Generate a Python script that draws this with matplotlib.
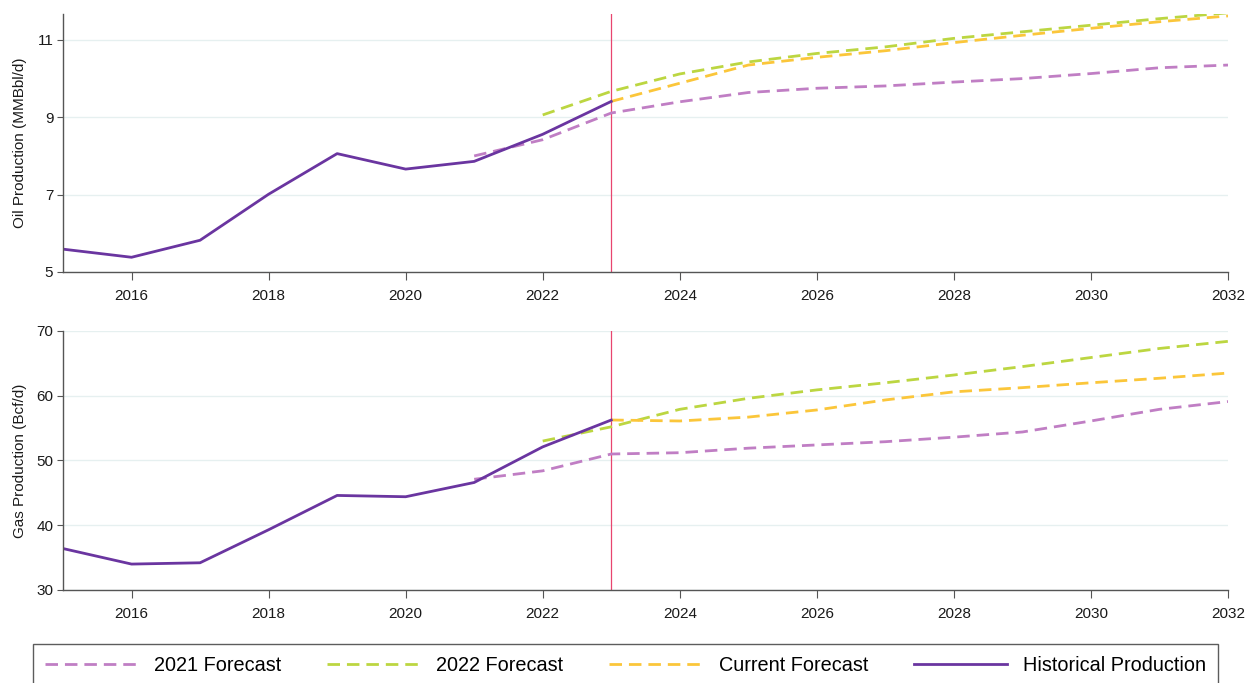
import matplotlib
matplotlib.use("Agg")
import matplotlib.pyplot as plt
import numpy as np

plt.rcParams['font.family'] = ['Liberation Sans', 'DejaVu Sans']

# ---- data ----
hist_years = np.arange(2015, 2024)
oil_hist = [5.59, 5.38, 5.82, 7.01, 8.06, 7.66, 7.86, 8.56, 9.41]
gas_hist = [36.4, 34.0, 34.2, 39.3, 44.6, 44.4, 46.6, 52.1, 56.25]

f21_years = np.arange(2021, 2033)
oil_f21 = [8.0, 8.42, 9.11, 9.40, 9.64, 9.75, 9.81, 9.91, 10.0, 10.13, 10.28, 10.35]
gas_f21 = [47.1, 48.4, 51.0, 51.2, 51.9, 52.4, 52.9, 53.6, 54.4, 56.1, 57.9, 59.1]

f22_years = np.arange(2022, 2033)
oil_f22 = [9.06, 9.67, 10.12, 10.43, 10.65, 10.82, 11.04, 11.21, 11.38, 11.55, 11.70]
gas_f22 = [53.0, 55.2, 57.9, 59.6, 60.9, 62.0, 63.2, 64.5, 65.9, 67.3, 68.4]

cur_years = np.arange(2023, 2033)
oil_cur = [9.41, 9.88, 10.35, 10.55, 10.72, 10.93, 11.12, 11.30, 11.47, 11.62]
gas_cur = [56.25, 56.1, 56.7, 57.8, 59.35, 60.6, 61.25, 62.0, 62.7, 63.5]

current_year = 2023
labels = ['2021 Forecast', '2022 Forecast', 'Current Forecast', 'Historical Production']
colors = ['#c07ec4', '#bcd641', '#fbc63a', '#6a35a0']

fig = plt.figure(figsize=(12.5, 6.83), dpi=100)
ax1 = fig.add_axes([0.0504, 0.6018, 0.932, 0.3777])
ax2 = fig.add_axes([0.0504, 0.1362, 0.932, 0.3792])

def draw(ax, f21, f22, cur, hist, ylim, yticks, ylabel):
    ax.plot(f21_years, f21, color=colors[0], lw=2.0, dashes=(4.5, 2.5), label=labels[0])
    ax.plot(f22_years, f22, color=colors[1], lw=2.0, dashes=(4.5, 2.5), label=labels[1])
    ax.plot(cur_years, cur, color=colors[2], lw=2.0, dashes=(4.5, 2.5), label=labels[2])
    ax.plot(hist_years, hist, color=colors[3], lw=2.0, label=labels[3])
    ax.axvline(current_year, color='#e8456f', lw=0.9, zorder=1)
    ax.set_xlim(2015, 2032)
    ax.set_ylim(*ylim)
    ax.set_xticks(np.arange(2016, 2033, 2))
    ax.set_yticks(yticks)
    ax.yaxis.grid(True, color='#e6f0f0', lw=1.0, zorder=0)
    ax.set_axisbelow(True)
    for s in ['top', 'right']:
        ax.spines[s].set_visible(False)
    for s in ['left', 'bottom']:
        ax.spines[s].set_color('#555555')
        ax.spines[s].set_linewidth(1.0)
    ax.tick_params(axis='x', length=6, color='#555555', labelsize=11, labelcolor='#1a1a1a', pad=6)
    ax.tick_params(axis='y', length=4, color='#555555', labelsize=11, labelcolor='#1a1a1a', pad=3)
    ax.set_ylabel(ylabel, fontsize=11, color='#1a1a1a')
    ax.yaxis.set_label_coords(-0.031, 0.5)

draw(ax1, oil_f21, oil_f22, oil_cur, oil_hist, (5, 11.67), [5, 7, 9, 11], 'Oil Production (MMBbl/d)')
draw(ax2, gas_f21, gas_f22, gas_cur, gas_hist, (30, 70), [30, 40, 50, 60, 70], 'Gas Production (Bcf/d)')

handles, labs = ax1.get_legend_handles_labels()
leg = fig.legend(handles, labs, loc='upper left', ncol=4, mode='expand',
                 bbox_to_anchor=(33 / 1250, 1 - 644 / 683, (1218 - 33) / 1250, 0),
                 borderaxespad=0, borderpad=0.6, fontsize=14.3, handlelength=4.7,
                 handletextpad=0.8, fancybox=False, frameon=True)
leg.get_frame().set_edgecolor('#333333')
leg.get_frame().set_linewidth(1.0)

fig.savefig('out.png', dpi=100)
